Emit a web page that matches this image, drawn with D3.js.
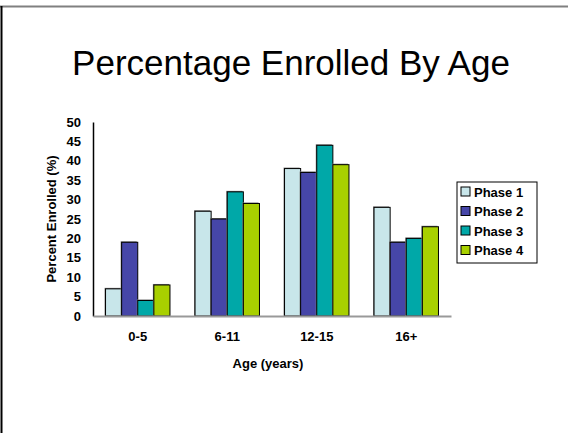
<!DOCTYPE html>
<html>
<head>
<meta charset="utf-8">
<script src="https://cdn.jsdelivr.net/npm/d3@7"></script>
<style>
body { margin: 0; background: #fff; }
svg text { font-family: "Liberation Sans", Arial, sans-serif; }
</style>
</head>
<body>
<div id="chart"></div>
<script>
// chart data
var ageGroups = ["0-5", "6-11", "12-15", "16+"];
var phases = ["Phase 1", "Phase 2", "Phase 3", "Phase 4"];
var phase1 = [7, 27, 38, 28];
var phase2 = [19, 25, 37, 19];
var phase3 = [4, 32, 44, 20];
var phase4 = [8, 29, 39, 23];
var yTicks = [0, 5, 10, 15, 20, 25, 30, 35, 40, 45, 50];
var colors = ["#C8E6EA", "#4646A8", "#00A8A8", "#A8D000"];

var series = [phase1, phase2, phase3, phase4];

var width = 568, height = 433;
var margin = {top: 122, right: 117, bottom: 117, left: 93};
var chartWidth = width - margin.left - margin.right;
var chartHeight = height - margin.top - margin.bottom;

var svg = d3.select("#chart").append("svg")
  .attr("width", width)
  .attr("height", height);

// slide frame
svg.append("line").attr("x1", 0).attr("x2", width).attr("y1", 6.5).attr("y2", 6.5)
  .attr("stroke", "#808080").attr("stroke-width", 2);
svg.append("line").attr("x1", 1.5).attr("x2", 1.5).attr("y1", 6).attr("y2", height)
  .attr("stroke", "#000").attr("stroke-width", 2);

svg.append("text")
  .attr("x", 291).attr("y", 75)
  .attr("text-anchor", "middle")
  .style("font-size", "35px")
  .text("Percentage Enrolled By Age");

var g = svg.append("g")
  .attr("transform", `translate(${margin.left}, ${margin.top})`);

var xScale = d3.scaleBand()
  .domain(ageGroups)
  .range([0, chartWidth])
  .paddingInner(0.28)
  .paddingOuter(0.14);

var xInner = d3.scaleBand()
  .domain(phases)
  .range([0, xScale.bandwidth()]);

var yScale = d3.scaleLinear()
  .domain([0, 50])
  .range([chartHeight, 0]);

var groups = g.append("g").attr("class", "bars")
  .selectAll("g")
  .data(ageGroups)
  .enter().append("g")
  .attr("transform", d => `translate(${xScale(d)},0)`);

var cells = groups.selectAll("g")
  .data((d, i) => phases.map((p, j) => ({phase: p, value: series[j][i], color: colors[j]})))
  .enter().append("g");

// little gray shadow like the original
cells.append("rect")
  .attr("x", d => xInner(d.phase) - 1)
  .attr("y", d => yScale(d.value) - 1)
  .attr("width", xInner.bandwidth())
  .attr("height", d => chartHeight - yScale(d.value) + 1)
  .attr("fill", "#808080");

cells.append("rect")
  .attr("x", d => xInner(d.phase))
  .attr("y", d => yScale(d.value))
  .attr("width", xInner.bandwidth())
  .attr("height", d => chartHeight - yScale(d.value))
  .attr("fill", d => d.color)
  .attr("stroke", "#000")
  .attr("stroke-width", 1);

var yAxis = d3.axisLeft(yScale).tickValues(yTicks).tickSize(0).tickPadding(12);
var yG = g.append("g").attr("class", "y axis").call(yAxis);
yG.select(".domain").attr("stroke", "#000").attr("stroke-width", 1.5);
yG.selectAll("text").style("font-size", "13px").style("font-weight", "bold").attr("fill", "#000");

var xAxis = d3.axisBottom(xScale).tickSize(0).tickPadding(16);
var xG = g.append("g").attr("class", "x axis")
  .attr("transform", `translate(0,${chartHeight})`)
  .call(xAxis);
xG.select(".domain").attr("stroke", "#999").attr("stroke-width", 2);
xG.selectAll("text").style("font-size", "13px").style("font-weight", "bold").attr("fill", "#000");

svg.append("text")
  .attr("x", 268).attr("y", 368)
  .attr("text-anchor", "middle")
  .style("font-size", "13px").style("font-weight", "bold")
  .text("Age (years)");

svg.append("text")
  .attr("transform", "translate(56,219) rotate(-90)")
  .attr("text-anchor", "middle")
  .style("font-size", "13px").style("font-weight", "bold")
  .text("Percent Enrolled (%)");

// legend
var legend = svg.append("g").attr("transform", "translate(457,182)");
legend.append("rect")
  .attr("width", 80).attr("height", 81)
  .attr("fill", "#fff").attr("stroke", "#000");
var items = legend.selectAll(".item")
  .data(phases)
  .enter().append("g")
  .attr("class", "item")
  .attr("transform", (d, i) => `translate(4,${5 + i * 19.5})`);
items.append("rect")
  .attr("width", 9).attr("height", 9)
  .attr("fill", (d, i) => colors[i])
  .attr("stroke", "#000");
items.append("text")
  .attr("x", 13).attr("y", 9.5)
  .style("font-size", "13px").style("font-weight", "bold")
  .text(d => d);
</script>
</body>
</html>
